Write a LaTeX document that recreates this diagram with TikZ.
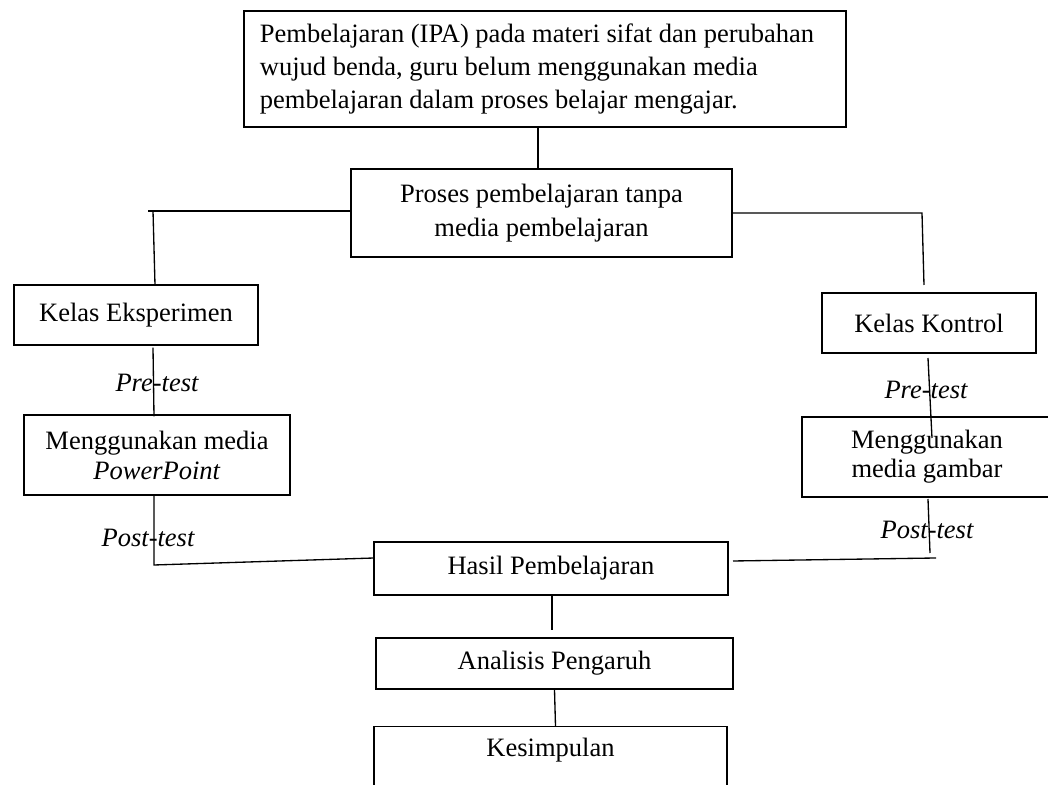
\documentclass[tikz,border=0pt]{standalone}
\usepackage{fontspec}
\setmainfont{Liberation Serif}
\usetikzlibrary{calc}
\begin{document}
% one drawing unit = 0.4525pt; y grows downwards
\begin{tikzpicture}[x=0.4525pt, y=-0.4525pt,
  every node/.style={font=\fontsize{12}{15}\selectfont},
  box/.style={draw, line width=0.6pt, inner sep=0pt, align=center},
  link/.style={line width=0.6pt},
  lbl/.style={font=\fontsize{12}{15}\selectfont\itshape, inner sep=0pt}]
\useasboundingbox (0,0) rectangle (1048,785);
\clip (0,0) rectangle (1048,785);
\fill[white] (0,0) rectangle (1048,785);

% boxes
\node[box, align=flush left, text width=258pt, inner xsep=7.2pt, minimum height=52.5pt] (top) at (545,69)
  {Pembelajaran (IPA) pada materi sifat dan perubahan\\wujud benda, guru belum menggunakan media\\pembelajaran dalam proses belajar mengajar.};
\node[box, minimum width=172.4pt, minimum height=39.8pt, font=\fontsize{12}{15.5}\selectfont] (proses) at (541.5,213)
  {Proses pembelajaran tanpa\\media pembelajaran};
\node[box, minimum width=110.4pt, minimum height=27.15pt] (kelasE) at (136,315) {Kelas Eksperimen};
\node[box, minimum width=96.8pt, minimum height=27.15pt] (kelasK) at (929,323) {Kelas Kontrol};
\node[box, minimum width=120.4pt, minimum height=36.2pt, font=\fontsize{12}{13.6}\selectfont] (mediaPP) at (157,455)
  {Menggunakan media\\\textit{PowerPoint}};
\node[box, minimum width=113.1pt, minimum height=36.2pt, font=\fontsize{12}{13}\selectfont] (mediaG) at (927,457)
  {Menggunakan\\media gambar};
\node[box, minimum width=160.2pt, minimum height=24pt] (hasil) at (551,568.5) {Hasil Pembelajaran};
\node[box, minimum width=161.5pt, minimum height=23.1pt] (analisis) at (554.5,663.5) {Analisis Pengaruh};
\node[box, anchor=north, minimum width=159.7pt, text height=13.6pt, text depth=27.2pt] (kesimpulan) at (550.5,726) {Kesimpulan};

% connector end points
\coordinate (pL) at (148,211);
\coordinate (pLv) at (153,211);
\coordinate (eTop) at (155,285);
\coordinate (pR) at (922,213);
\coordinate (kTop) at (924,285);
\coordinate (kB) at (928,358);
\coordinate (gIn) at (932,438);
\coordinate (ppC) at (154,565);
\coordinate (hL) at (374,558);
\coordinate (gB) at (928,499);
\coordinate (gC) at (930,553);
\coordinate (hR1) at (936,558);
\coordinate (hR2) at (733,561);
\coordinate (aT) at (552,630);

% connectors
\draw[link] (top.south -| 538,0) -- (proses.north -| 538,0);
\draw[link] (proses.west |- pL) -- (pL);
\draw[link] (pLv) -- (eTop);
\draw[link] (proses.east) -- (pR) -- (kTop);
\draw[link] ($(kelasE.south)+(17,2)$) -- ($(mediaPP.north)+(-3,2)$);
\draw[link] (kB) -- (gIn);
\draw[link] (mediaPP.south -| ppC) -- (ppC) -- (hL);
\draw[link] (gB) -- (gC);
\draw[link] (hR1) -- (hR2);
\draw[link] (hasil.south -| aT) -- (aT);
\draw[link] (analisis.south) -- ($(kesimpulan.north)+(5,0)$);

% test labels
\node[lbl] (pre1) at (157,383) {Pre-test};
\node[lbl] (pre2) at (926,390) {Pre-test};
\node[lbl] (post1) at (148,538) {Post-test};
\node[lbl] (post2) at (927,530) {Post-test};
\end{tikzpicture}
\end{document}
